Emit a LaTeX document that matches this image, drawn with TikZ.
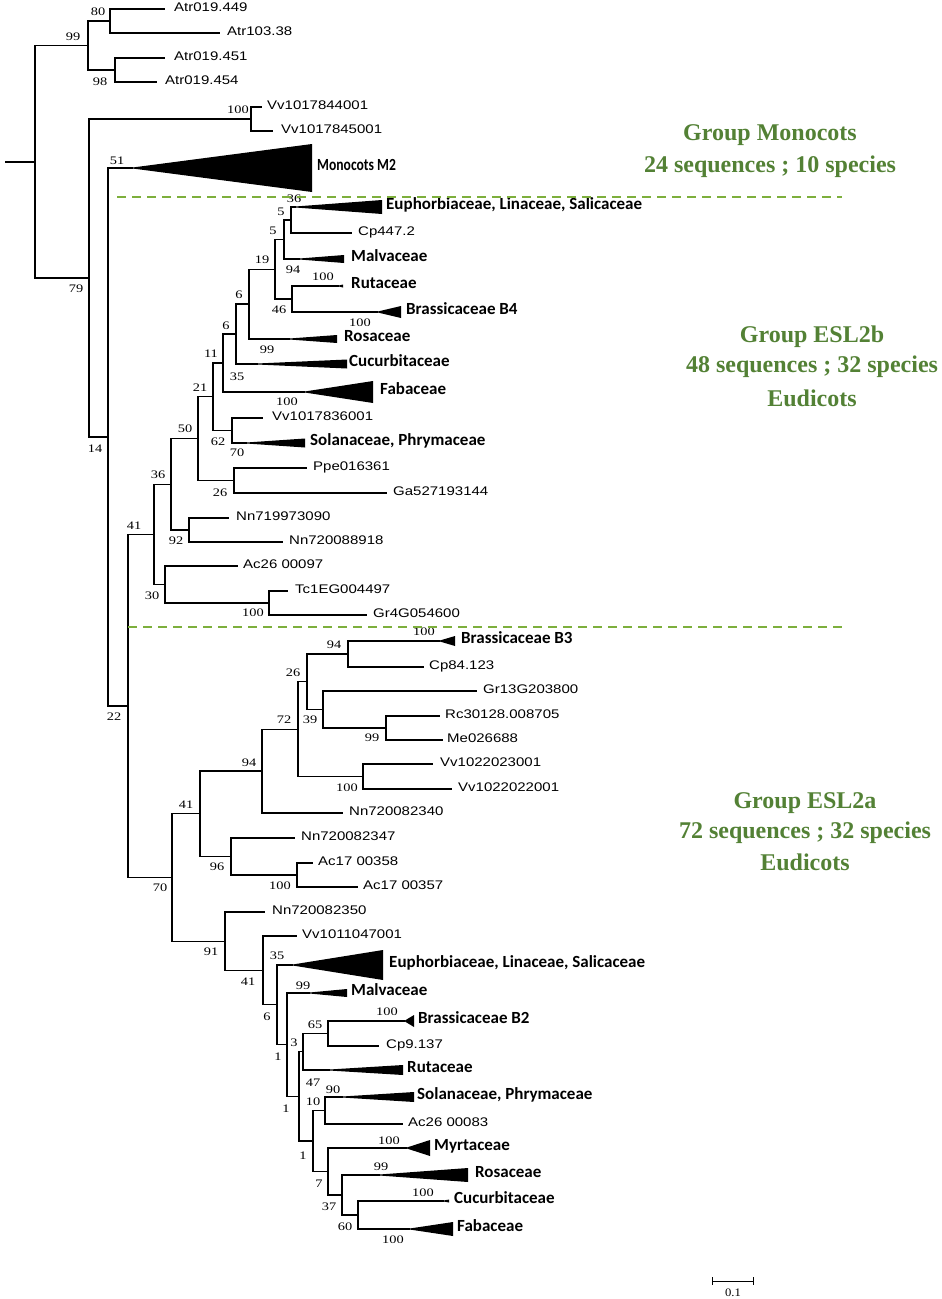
\documentclass[tikz,border=0pt]{standalone}
\usepackage{graphicx}
\usepackage{fontspec}
\setmainfont{Liberation Serif}
\newfontfamily\arialf{Liberation Sans}
\newfontfamily\calf{Carlito}
\definecolor{grpgreen}{HTML}{538135}
\definecolor{dashgreen}{HTML}{7DAF3C}
\tikzset{
  br/.style={line width=1.15pt},
  leaflbl/.style={anchor=mid west, inner sep=0pt, font=\arialf\fontsize{12.5}{14}\selectfont},
  cladelbl/.style={anchor=mid west, inner sep=0pt, font=\calf\bfseries\fontsize{17}{19}\selectfont},
  bsl/.style={inner sep=0pt, font=\fontsize{11.5}{13}\selectfont},
  grp/.style={inner sep=0pt, text=grpgreen, font=\bfseries\fontsize{24}{28}\selectfont},
  sep/.style={dashgreen, line width=1.5pt, dash pattern=on 9pt off 6pt}
}
\newcommand\lf[5]{\coordinate (#1) at (#2,#3); \node[leaflbl] (#1t) at (#4,#3) {\scalebox{1.2}[1]{#5}};}
\newcommand\tri[7]{\coordinate (#1) at (#2,#3); \fill (#2,{#3-0.55}) -- (#4,{#3-#5}) -- (#4,{#3+#5}) -- (#2,{#3+0.55}) -- cycle; \node[cladelbl] (#1t) at (#6,#3) {#7};}
\newcommand\ed[2]{\draw[br] (#1) |- (#2);}
\newcommand\bs[4]{\node[bsl] (#1) at (#2,#3) {\scalebox{1.25}[1]{#4}};}
\begin{document}
\begin{tikzpicture}[x=1pt,y=-1pt]
\useasboundingbox (0,0) rectangle (942,1299);
% ---------- internal nodes ----------
\coordinate (r0) at (5,162);
\coordinate (root) at (35,162);
\coordinate (n99) at (88,45.5);
\coordinate (n80) at (110,21);
\coordinate (n98) at (115,70);
\coordinate (n79) at (89,278);
\coordinate (nVv) at (251,119);
\coordinate (n14) at (108,437);
\coordinate (n22) at (128,706);
% ESL2b
\coordinate (b41) at (154,534.4);
\coordinate (b36) at (171,484.3);
\coordinate (b50) at (198,438.6);
\coordinate (b21) at (213,396.75);
\coordinate (b11) at (223,363);
\coordinate (b6b) at (236,334);
\coordinate (b6a) at (249,304);
\coordinate (b19) at (275,269.25);
\coordinate (b5b) at (284,239.5);
\coordinate (b5a) at (291,220);
\coordinate (b46) at (292,299);
\coordinate (b62) at (232,430.5);
\coordinate (b26) at (234,480.5);
\coordinate (b92) at (189,530);
\coordinate (b30) at (165,584.5);
\coordinate (b100) at (269,603);
% ESL2a
\coordinate (a70) at (172,877.5);
\coordinate (a41) at (200,813.75);
\coordinate (a94) at (262,771);
\coordinate (a72) at (298,729.3);
\coordinate (a26) at (307,681.75);
\coordinate (a94c) at (348,654);
\coordinate (a39) at (323,709.5);
\coordinate (a99) at (386,728);
\coordinate (a100b) at (363,776.5);
\coordinate (a96) at (231,856.5);
\coordinate (a100c) at (297,875);
\coordinate (a91) at (225,941.2);
\coordinate (a41c) at (263,970.4);
\coordinate (a6) at (277,1004.85);
\coordinate (a1a) at (287,1044.7);
\coordinate (a1b) at (299,1096.4);
\coordinate (a47) at (303,1051.75);
\coordinate (a65) at (328,1033.5);
\coordinate (a10) at (313,1141);
\coordinate (a90) at (325,1110.5);
\coordinate (a7) at (328,1171.5);
\coordinate (a37) at (342,1195);
\coordinate (a60) at (358,1215);
% ---------- leaves ----------
\lf{L1}{165}{9}{174}{Atr019.449}
\lf{L2}{220}{33}{227}{Atr103.38}
\lf{L3}{165}{58}{174}{Atr019.451}
\lf{L4}{157}{82}{165}{Atr019.454}
\lf{L5}{262}{107}{267}{Vv1017844001}
\lf{L6}{273}{131}{281}{Vv1017845001}
\tri{T1}{133}{168}{312}{24}{317}{\scalebox{0.8}[1]{Monocots M2}}
\tri{T2}{296}{207}{382}{7}{386}{Euphorbiaceae, Linaceae, Salicaceae}
\lf{L9}{352}{233}{358}{Cp447.2}
\tri{T3}{300}{259}{344}{4}{351}{Malvaceae}
\tri{T4}{339}{286}{343}{1.5}{351}{Rutaceae}
\tri{T5}{378}{312}{401}{6}{406}{Brassicaceae B4}
\tri{T6}{290}{339}{337}{4}{344}{Rosaceae}
\tri{T7}{258}{364}{347}{4.5}{349}{Cucurbitaceae}
\tri{T8}{305}{392}{373}{11}{380}{Fabaceae}
\lf{L16}{263}{418}{272}{Vv1017836001}
\tri{T9}{247}{443}{305}{4.5}{310}{Solanaceae, Phrymaceae}
\lf{L18}{307}{468}{313}{Ppe016361}
\lf{L19}{387}{493}{393}{Ga527193144}
\lf{L20}{229}{518}{236}{Nn719973090}
\lf{L21}{283}{542}{289}{Nn720088918}
\lf{L22}{238}{566}{243}{Ac26 00097}
\lf{L23}{288}{591}{295}{Tc1EG004497}
\lf{L24}{367}{615}{373}{Gr4G054600}
\tri{T10}{440}{641}{455}{5}{461}{Brassicaceae B3}
\lf{L26}{424}{667}{429}{Cp84.123}
\lf{L27}{477}{691}{483}{Gr13G203800}
\lf{L28}{440}{716}{445}{Rc30128.008705}
\lf{L29}{443}{740}{447}{Me026688}
\lf{L30}{433}{764}{440}{Vv1022023001}
\lf{L31}{452}{789}{458}{Vv1022022001}
\lf{L32}{343}{813}{349}{Nn720082340}
\lf{L33}{295}{838}{301}{Nn720082347}
\lf{L34}{313}{863}{318}{Ac17 00358}
\lf{L35}{358}{887}{363}{Ac17 00357}
\lf{L36}{265}{912}{272}{Nn720082350}
\lf{L37}{297}{936}{302}{Vv1011047001}
\tri{T11}{293}{965}{383}{15}{389}{Euphorbiaceae, Linaceae, Salicaceae}
\tri{T12}{310}{993}{347}{4}{351}{Malvaceae}
\tri{T13}{405}{1021}{414}{6}{418}{Brassicaceae B2}
\lf{L41}{379}{1046}{386}{Cp9.137}
\tri{T14}{330}{1070}{403}{5}{407}{Rutaceae}
\tri{T15}{343}{1097}{414}{5}{417}{Solanaceae, Phrymaceae}
\lf{L44}{403}{1124}{408}{Ac26 00083}
\tri{T16}{407}{1148}{430}{8}{434}{Myrtaceae}
\tri{T17}{380}{1175}{468}{7}{475}{Rosaceae}
\tri{T18}{444}{1201}{449}{1.5}{454}{Cucurbitaceae}
\tri{T19}{410}{1229}{453}{7}{457}{Fabaceae}
% ---------- edges ----------
\draw[br] (r0) -- (root);
\ed{root}{n99} \ed{root}{n79}
\ed{n99}{n80} \ed{n99}{n98}
\ed{n80}{L1} \ed{n80}{L2} \ed{n98}{L3} \ed{n98}{L4}
\ed{n79}{nVv} \ed{n79}{n14}
\ed{nVv}{L5} \ed{nVv}{L6}
\ed{n14}{T1} \ed{n14}{n22}
\ed{n22}{b41} \ed{n22}{a70}
% ESL2b
\ed{b41}{b36} \ed{b41}{b30}
\ed{b36}{b50} \ed{b36}{b92}
\ed{b50}{b21} \ed{b50}{b26}
\ed{b21}{b11} \ed{b21}{b62}
\ed{b11}{b6b} \ed{b11}{T8}
\ed{b6b}{b6a} \ed{b6b}{T7}
\ed{b6a}{b19} \ed{b6a}{T6}
\ed{b19}{b5b} \ed{b19}{b46}
\ed{b5b}{b5a} \ed{b5b}{T3}
\ed{b5a}{T2} \ed{b5a}{L9}
\ed{b46}{T4} \ed{b46}{T5}
\ed{b62}{L16} \ed{b62}{T9}
\ed{b26}{L18} \ed{b26}{L19}
\ed{b92}{L20} \ed{b92}{L21}
\ed{b30}{L22} \ed{b30}{b100}
\ed{b100}{L23} \ed{b100}{L24}
% ESL2a
\ed{a70}{a41} \ed{a70}{a91}
\ed{a41}{a94} \ed{a41}{a96}
\ed{a94}{a72} \ed{a94}{L32}
\ed{a72}{a26} \ed{a72}{a100b}
\ed{a26}{a94c} \ed{a26}{a39}
\ed{a94c}{T10} \ed{a94c}{L26}
\ed{a39}{L27} \ed{a39}{a99}
\ed{a99}{L28} \ed{a99}{L29}
\ed{a100b}{L30} \ed{a100b}{L31}
\ed{a96}{L33} \ed{a96}{a100c}
\ed{a100c}{L34} \ed{a100c}{L35}
\ed{a91}{L36} \ed{a91}{a41c}
\ed{a41c}{L37} \ed{a41c}{a6}
\ed{a6}{T11} \ed{a6}{a1a}
\ed{a1a}{T12} \ed{a1a}{a1b}
\ed{a1b}{a47} \ed{a1b}{a10}
\ed{a47}{a65} \ed{a47}{T14}
\ed{a65}{T13} \ed{a65}{L41}
\ed{a10}{a90} \ed{a10}{a7}
\ed{a90}{T15} \ed{a90}{L44}
\ed{a7}{T16} \ed{a7}{a37}
\ed{a37}{T17} \ed{a37}{a60}
\ed{a60}{T18} \ed{a60}{T19}
% ---------- bootstrap values ----------
\bs{s1}{73}{37}{99} \bs{s2}{98}{12}{80} \bs{s3}{100}{82}{98}
\bs{s4}{76}{289}{79} \bs{s5}{95}{449}{14} \bs{s6}{114}{717}{22}
\bs{s7}{117}{161}{51} \bs{s8}{238}{110}{100}
\bs{s9}{294}{199}{36} \bs{s10}{281}{212}{5} \bs{s11}{273}{231}{5}
\bs{s12}{262}{260}{19} \bs{s13}{293}{270}{94} \bs{s14}{323}{277}{100}
\bs{s15}{279}{310}{46} \bs{s16}{360}{323}{100} \bs{s17}{239}{295}{6}
\bs{s18}{267}{350}{99} \bs{s19}{226}{326}{6} \bs{s20}{237}{377}{35}
\bs{s21}{211}{354}{11} \bs{s22}{287}{402}{100} \bs{s23}{200}{388}{21}
\bs{s24}{185}{429}{50} \bs{s25}{218}{442}{62} \bs{s26}{237}{453}{70}
\bs{s27}{220}{493}{26} \bs{s28}{158}{475}{36} \bs{s29}{176}{541}{92}
\bs{s30}{134}{526}{41} \bs{s31}{152}{596}{30} \bs{s32}{253}{613}{100}
\bs{s33}{424}{632}{100} \bs{s34}{334}{645}{94} \bs{s35}{293}{673}{26}
\bs{s36}{284}{720}{72} \bs{s37}{310}{720}{39} \bs{s38}{372}{738}{99}
\bs{s39}{347}{788}{100} \bs{s40}{249}{763}{94} \bs{s41}{186}{805}{41}
\bs{s42}{217}{867}{96} \bs{s43}{280}{886}{100} \bs{s44}{160}{888}{70}
\bs{s45}{211}{952}{91} \bs{s46}{248}{982}{41} \bs{s47}{277}{956}{35}
\bs{s48}{303}{986}{99} \bs{s49}{267}{1017}{6} \bs{s50}{387}{1012}{100}
\bs{s51}{315}{1025}{65} \bs{s52}{294}{1043}{3} \bs{s53}{278}{1057}{1}
\bs{s54}{313}{1083}{47} \bs{s55}{333}{1090}{90} \bs{s56}{313}{1102}{10}
\bs{s57}{286}{1109}{1} \bs{s58}{389}{1141}{100} \bs{s59}{303}{1156}{1}
\bs{s60}{319}{1184}{7} \bs{s61}{381}{1167}{99} \bs{s62}{423}{1193}{100}
\bs{s63}{329}{1207}{37} \bs{s64}{345}{1227}{60} \bs{s65}{393}{1240}{100}
% ---------- group separators ----------
\coordinate (d1a) at (117,197); \coordinate (d1b) at (842,197);
\coordinate (d2a) at (128,627); \coordinate (d2b) at (842,627);
\draw[sep] (d1a) -- (d1b);
\draw[sep] (d2a) -- (d2b);
% ---------- group labels ----------
\node[grp] (g1) at (770,135) {Group Monocots};
\node[grp] (g2) at (770,167) {24 sequences ; 10 species};
\node[grp] (g3) at (812,337) {Group ESL2b};
\node[grp] (g4) at (812,367) {48 sequences ; 32 species};
\node[grp] (g5) at (812,398) {Eudicots};
\node[grp] (g6) at (805,803) {Group ESL2a};
\node[grp] (g7) at (805,833) {72 sequences ; 32 species};
\node[grp] (g8) at (805,862) {Eudicots};
% ---------- scale bar ----------
\coordinate (sb1) at (712,1281); \coordinate (sb2) at (753,1281);
\draw[line width=0.9pt] (sb1) -- (sb2);
\draw[line width=0.9pt] ([yshift=4pt]sb1) -- ([yshift=-4pt]sb1);
\draw[line width=0.9pt] ([yshift=4pt]sb2) -- ([yshift=-4pt]sb2);
\node[bsl] (sbt) at (733,1293) {\scalebox{1.1}[1]{0.1}};
\end{tikzpicture}
\end{document}
